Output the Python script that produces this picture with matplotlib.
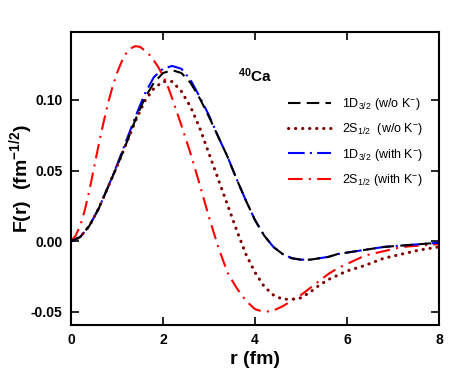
import numpy as np
import matplotlib
matplotlib.use("Agg")
import matplotlib.pyplot as plt

plt.rcParams['font.family'] = ['Liberation Sans', 'DejaVu Sans']
plt.rcParams['mathtext.fontset'] = 'custom'
plt.rcParams['mathtext.rm'] = 'Liberation Sans'
plt.rcParams['mathtext.it'] = 'Liberation Sans:italic'
plt.rcParams['mathtext.bf'] = 'Liberation Sans:bold'

# radial grid (fm) for the curves without K-
r = [0.0, 0.2, 0.4, 0.6, 0.8, 1.0, 1.2, 1.4, 1.6, 1.8, 2.0, 2.2, 2.4, 2.6, 2.8,
     3.0, 3.2, 3.4, 3.6, 3.8, 4.0, 4.2, 4.4, 4.6, 4.8, 5.0, 5.2, 5.4, 5.6, 5.8,
     6.0, 6.4, 6.8, 7.2, 7.6, 8.0]

# 1D3/2 without K-
d32_wo = [0.000, 0.003, 0.011, 0.023, 0.038, 0.053, 0.069, 0.086, 0.101, 0.112,
          0.119, 0.121, 0.119, 0.112, 0.101, 0.088, 0.074, 0.060, 0.044, 0.029,
          0.015, 0.004, -0.004, -0.009, -0.012, -0.013, -0.013, -0.012, -0.011,
          -0.009, -0.008, -0.006, -0.004, -0.003, -0.002, -0.001]

# 2S1/2 without K-
s12_wo = [0.000, 0.003, 0.011, 0.023, 0.038, 0.053, 0.069, 0.085, 0.099, 0.108,
          0.113, 0.113, 0.106, 0.095, 0.080, 0.062, 0.044, 0.026, 0.008, -0.009,
          -0.022, -0.032, -0.038, -0.041, -0.041, -0.040, -0.036, -0.031, -0.027,
          -0.024, -0.021, -0.017, -0.012, -0.009, -0.006, -0.004]

# 1D3/2 with K-
d32_w = [0.000, 0.003, 0.011, 0.023, 0.038, 0.054, 0.071, 0.088, 0.104, 0.116,
         0.122, 0.124, 0.122, 0.114, 0.102, 0.089, 0.074, 0.060, 0.044, 0.029,
         0.015, 0.004, -0.004, -0.009, -0.012, -0.013, -0.013, -0.012, -0.011,
         -0.009, -0.008, -0.006, -0.004, -0.003, -0.002, -0.001]

# 2S1/2 with K- (finer grid near the peak)
r_s12_w = [0.0, 0.1, 0.2, 0.3, 0.4, 0.5, 0.6, 0.7, 0.8, 0.9, 1.0, 1.1, 1.2, 1.3,
           1.4, 1.5, 1.6, 1.7, 1.8, 1.9, 2.0, 2.1, 2.2, 2.4, 2.6, 2.8, 3.0, 3.2,
           3.4, 3.6, 3.8, 4.0, 4.2, 4.4, 4.6, 4.8, 5.0, 5.2, 5.4, 5.6, 5.8, 6.0,
           6.4, 6.8, 7.2, 7.6, 8.0]
s12_w = [0.000, 0.004, 0.011, 0.022, 0.036, 0.052, 0.068, 0.083, 0.097, 0.109,
         0.119, 0.127, 0.133, 0.1365, 0.138, 0.1375, 0.135, 0.132, 0.128, 0.123,
         0.117, 0.110, 0.101, 0.082, 0.062, 0.040, 0.017, -0.004, -0.022, -0.033,
         -0.042, -0.048, -0.050, -0.049, -0.046, -0.042, -0.038, -0.033, -0.028,
         -0.023, -0.019, -0.016, -0.010, -0.007, -0.004, -0.003, -0.002]

labels = [r'1D$_{3/2}$ (w/o K$^{-}$)', r'2S$_{1/2}$  (w/o K$^{-}$)',
          r'1D$_{3/2}$ (with K$^{-}$)', r'2S$_{1/2}$ (with K$^{-}$)']

fig = plt.figure(figsize=(4.69, 3.81), dpi=100)
ax = fig.add_axes([0.1514, 0.147, 0.7846, 0.769])

ax.plot(r_s12_w, s12_w, color='red', lw=1.5, dashes=(7, 3, 1, 3), label=labels[3], zorder=2)
ax.plot(r, d32_w, color='blue', lw=1.5, dashes=(8, 2.5, 1, 2.5), label=labels[2], zorder=3)
ax.plot(r, s12_wo, color='#800000', lw=2.2, dashes=(0.1, 2.2), dash_capstyle='round',
        label=labels[1], zorder=4)
ax.plot(r, d32_wo, color='black', lw=1.5, dashes=(6, 3), label=labels[0], zorder=5)

ax.set_xlim(0, 8)
ax.set_ylim(-0.0592, 0.148)
ax.set_xticks([0, 2, 4, 6, 8])
ax.set_yticks([-0.05, 0.0, 0.05, 0.10])
ax.set_yticklabels(['-0.05', '0.00', '0.05', '0.10'])
ax.tick_params(direction='in', length=6, width=1.2, top=True, right=True,
               labelsize=10, pad=6)
for lab in ax.get_xticklabels() + ax.get_yticklabels():
    lab.set_fontweight('bold')
for sp in ax.spines.values():
    sp.set_linewidth(1.5)

ax.set_xlabel('r (fm)', fontsize=14, fontweight='bold', labelpad=3)
ax.set_ylabel(r'F(r)  (fm$^{\mathbf{-1/2}}$)', fontsize=14, fontweight='bold', labelpad=-3)

ax.text(0.455, 0.83, r'$^{\mathbf{40}}$Ca', transform=ax.transAxes,
        fontsize=11, fontweight='bold')

handles, labs = ax.get_legend_handles_labels()
order = [3, 2, 1, 0]
ax.legend([handles[i] for i in order], [labs[i] for i in order],
          loc='upper left', bbox_to_anchor=(0.56, 0.82), frameon=False,
          fontsize=9, handlelength=3.4, labelspacing=0.75, handletextpad=0.9)

fig.savefig('out.png', dpi=100)
